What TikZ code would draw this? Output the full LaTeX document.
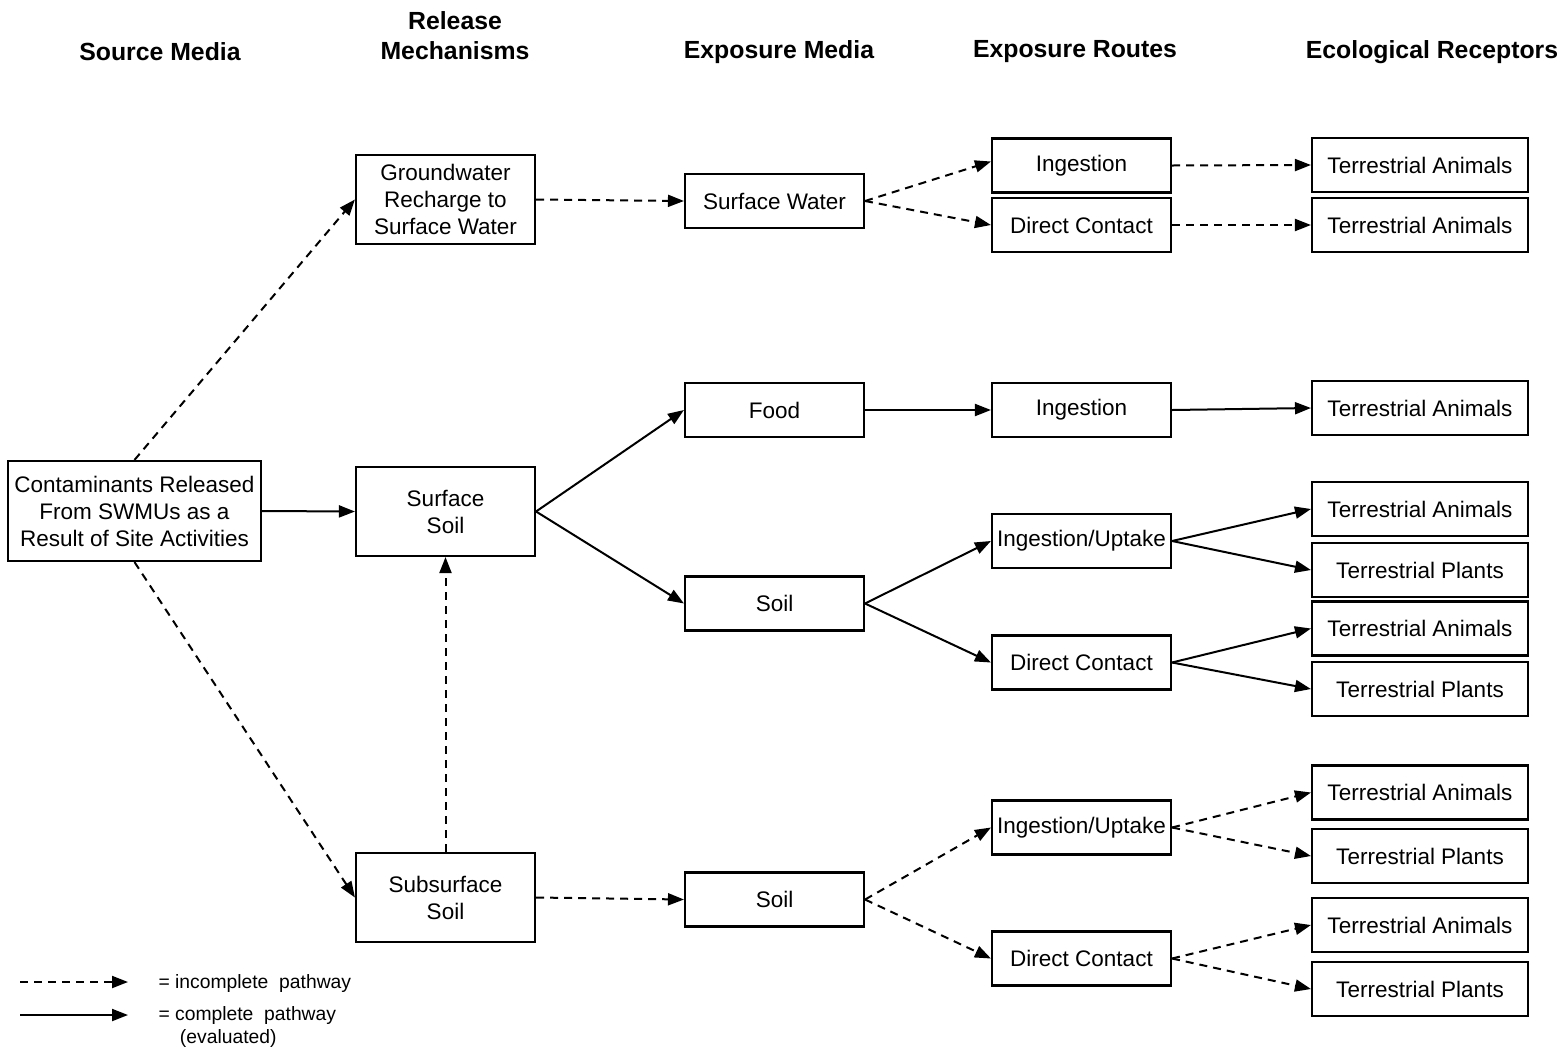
\documentclass[tikz,border=0pt]{standalone}
\usepackage{fontspec}
\setmainfont{Liberation Sans}
\usetikzlibrary{arrows.meta}
\begin{document}
\begin{tikzpicture}[x=1pt,y=-1pt,
  box/.style={draw,line width=2.1pt,inner sep=0pt,align=center,font=\fontsize{22.5}{27}\selectfont},
  bigbox/.style={box,minimum width=179pt,minimum height=89pt},
  medbox/.style={box,minimum width=179pt,minimum height=54pt},
  recbox/.style={box,minimum width=216pt,minimum height=54pt},
  head/.style={font=\bfseries\fontsize{24.8}{30}\selectfont,align=center},
  conn/.style={line width=2pt,-{Triangle[length=16pt,width=12pt]}},
  inc/.style={conn,dash pattern=on 8pt off 6pt},
  legtext/.style={font=\fontsize{19.3}{23}\selectfont,anchor=west,align=left}]
\useasboundingbox (0,0) rectangle (1568,1050);

% headings
\node[head] (h1) at (160,52) {Source Media};
\node[head] (h2) at (455,36) {Release\\Mechanisms};
\node[head] (h3) at (779,52) {Exposure Media};
\node[head] (h4) at (1075,52) {Exposure Routes};
\node[head] (h5) at (1432,52) {Ecological Receptors};

% source
\node[box,minimum width=253pt,minimum height=100pt] (src) at (134.5,511) {Contaminants Released\\From SWMUs as a\\Result of Site Activities};

% release mechanisms
\node[bigbox] (gw) at (445.5,199.5) {Groundwater\\Recharge to\\Surface Water};
\node[bigbox] (ss) at (445.5,511.5) {Surface\\Soil};
\node[bigbox] (sub) at (445.5,897.5) {Subsurface\\Soil};

% exposure media
\node[medbox] (sw) at (774.5,201) {Surface Water};
\node[medbox] (food) at (774.5,410) {Food};
\node[medbox] (soil1) at (774.5,603.5) {Soil};
\node[medbox] (soil2) at (774.5,899.5) {Soil};

% exposure routes
\node[medbox] (r1) at (1081.5,165.5) {Ingestion};
\node[medbox] (r2) at (1081.5,225) {Direct Contact};
\node[medbox] (r3) at (1081.5,410) {Ingestion};
\node[medbox] (r4) at (1081.5,541) {Ingestion/Uptake};
\node[medbox] (r5) at (1081.5,662.5) {Direct Contact};
\node[medbox] (r6) at (1081.5,827.5) {Ingestion/Uptake};
\node[medbox] (r7) at (1081.5,958.5) {Direct Contact};

% receptors
\node[recbox] (e1) at (1420,165) {Terrestrial Animals};
\node[recbox] (e2) at (1420,225) {Terrestrial Animals};
\node[recbox] (e3) at (1420,408) {Terrestrial Animals};
\node[recbox] (e4) at (1420,509) {Terrestrial Animals};
\node[recbox] (e5) at (1420,570) {Terrestrial Plants};
\node[recbox] (e6) at (1420,628.5) {Terrestrial Animals};
\node[recbox] (e7) at (1420,689) {Terrestrial Plants};
\node[recbox] (e8) at (1420,792.5) {Terrestrial Animals};
\node[recbox] (e9) at (1420,856) {Terrestrial Plants};
\node[recbox] (e10) at (1420,925) {Terrestrial Animals};
\node[recbox] (e11) at (1420,989) {Terrestrial Plants};

% connectors
\draw[inc] (src.north) -- (gw.west);
\draw[conn] (src.east) -- (ss.west);
\draw[inc] (src.south) -- (sub.west);
\draw[inc] (sub.north) -- (ss.south);

\draw[inc] (gw.east) -- (sw.west);
\draw[conn] (ss.east) -- (food.west);
\draw[conn] (ss.east) -- (soil1.west);
\draw[inc] (sub.east) -- (soil2.west);

\draw[inc] (sw.east) -- ([yshift=4pt]r1.west);
\draw[inc] (sw.east) -- (r2.west);
\draw[conn] (food.east) -- (r3.west);
\draw[conn] (soil1.east) -- (r4.west);
\draw[conn] (soil1.east) -- (r5.west);
\draw[inc] (soil2.east) -- (r6.west);
\draw[inc] (soil2.east) -- (r7.west);

\draw[inc] (r1.east) -- (e1.west);
\draw[inc] (r2.east) -- (e2.west);
\draw[conn] (r3.east) -- (e3.west);
\draw[conn] (r4.east) -- (e4.west);
\draw[conn] (r4.east) -- (e5.west);
\draw[conn] (r5.east) -- (e6.west);
\draw[conn] (r5.east) -- (e7.west);
\draw[inc] (r6.east) -- (e8.west);
\draw[inc] (r6.east) -- (e9.west);
\draw[inc] (r7.east) -- (e10.west);
\draw[inc] (r7.east) -- (e11.west);

% legend
\coordinate (l1a) at (20,982);
\coordinate (l1b) at (128,982);
\coordinate (l2a) at (20,1015);
\coordinate (l2b) at (128,1015);
\draw[inc] (l1a) -- (l1b);
\draw[conn] (l2a) -- (l2b);
\node[legtext] (lt1) at (155,983) {= incomplete\ \ pathway};
\node[legtext] (lt2) at (155,1027) {= complete\ \ pathway\\\ \ \ \ (evaluated)};
\end{tikzpicture}
\end{document}
